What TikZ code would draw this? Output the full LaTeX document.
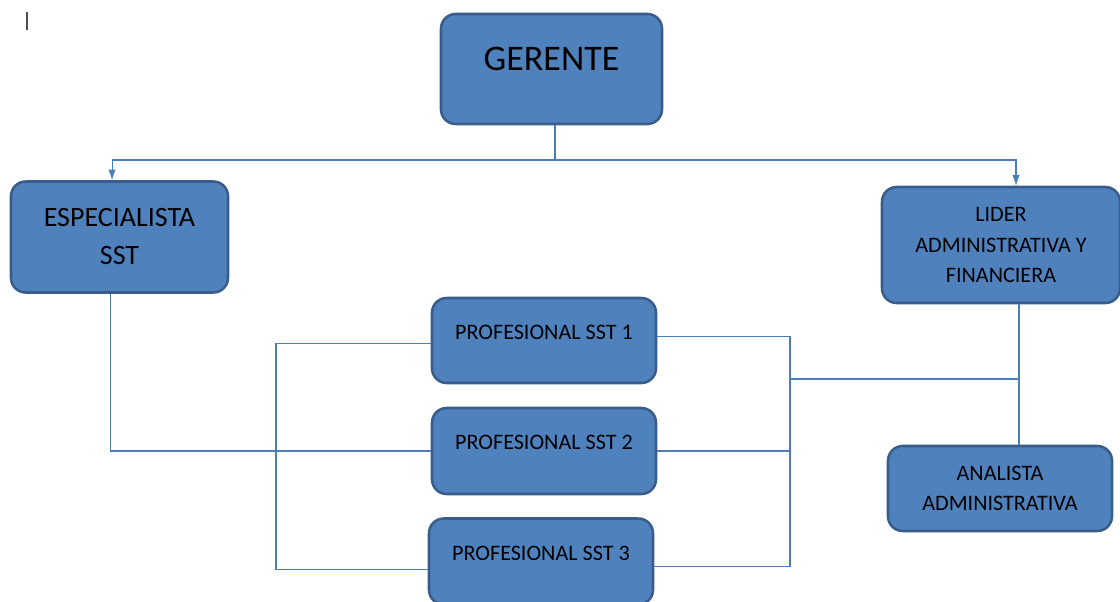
\documentclass[tikz,border=0pt]{standalone}
\usepackage{fontspec}
\setmainfont{Carlito}
\usetikzlibrary{arrows.meta}
\definecolor{bfill}{HTML}{4F81BD}
\definecolor{bdr}{HTML}{385D8A}
\definecolor{lnk}{HTML}{4A7EBB}
\begin{document}
\begin{tikzpicture}[x=0.75pt,y=-0.75pt,
  blk/.style={draw=bdr,fill=bfill,rectangle,rounded corners=11pt,line width=1.9pt,inner sep=0pt,align=center},
  big/.style={blk,font=\fontsize{27}{32}\selectfont,text height=18pt,text depth=16.5pt},
  mid/.style={blk,font=\fontsize{21}{28.5}\selectfont},
  sml/.style={blk,font=\fontsize{16.6}{23}\selectfont},
  pro/.style={sml,text height=11pt,text depth=13.2pt},
  lnk/.style={draw=lnk,line width=0.8pt},
  arr/.style={lnk,-{Latex[length=8pt,width=5.5pt]}}]
\useasboundingbox (0,0) rectangle (1120,601);
\draw[line width=1pt,black!70] (27,12) -- (27,30);
\node[big,minimum width=165.75pt,minimum height=82.5pt] (G) at (551.5,69) {GERENTE};
\node[mid,minimum width=162.75pt,minimum height=83.25pt] (E) at (119.5,237) {ESPECIALISTA\\SST};
\node[sml,minimum width=178.5pt,minimum height=87pt] (L) at (1001,245) {LIDER\\ADMINISTRATIVA Y\\FINANCIERA};
\node[pro,minimum width=168pt,minimum height=63.75pt] (P1) at (544,340.5) {PROFESIONAL SST 1};
\node[pro,minimum width=168pt,minimum height=64.5pt] (P2) at (544,451) {PROFESIONAL SST 2};
\node[pro,minimum width=168pt,minimum height=64.5pt] (P3) at (541,561.5) {PROFESIONAL SST 3};
\node[sml,minimum width=168pt,minimum height=63.75pt] (An) at (1000,488.5) {ANALISTA\\ADMINISTRATIVA};
\coordinate (t) at (555,160);
\coordinate (lb) at (276,450);
\coordinate (rb) at (790,379);
\coordinate (lv) at (1019,379);
\draw[lnk] (G.south -| t) -- (t);
\draw[arr] (t) -| ([xshift=-5.6pt]E.north);
\draw[arr] (t) -| ([xshift=11.25pt]L.north);
\draw[lnk] ([xshift=-7pt]E.south) |- (P2.west);
\draw[lnk] ([yshift=-2pt]P1.west) -| (lb) |- ([yshift=-6pt]P3.west);
\draw[lnk] ([yshift=3pt]P1.east) -| (rb) |- ([yshift=-3.5pt]P3.east);
\draw[lnk] (P2.east) -- (P2.east -| rb);
\draw[lnk] (rb) -- (lv);
\draw[lnk] (L.south -| lv) -- (An.north -| lv);
\end{tikzpicture}
\end{document}
